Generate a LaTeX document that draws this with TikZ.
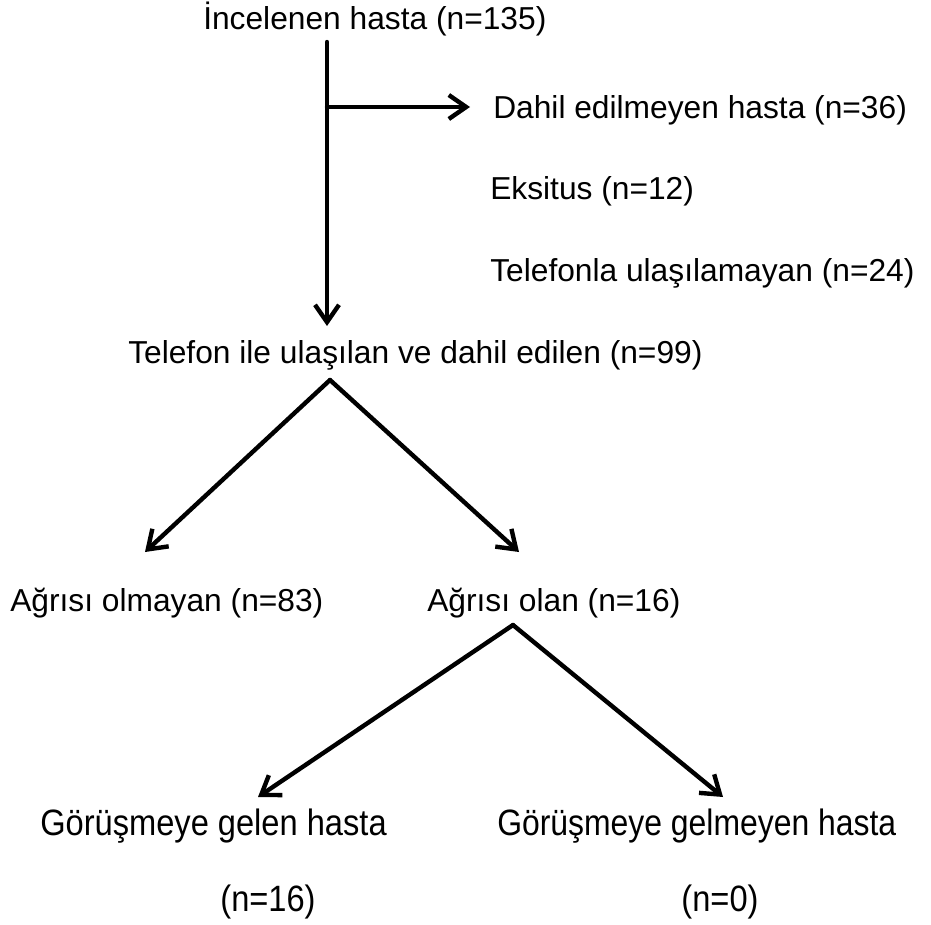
\documentclass[tikz,border=0pt]{standalone}
\usepackage{fontspec}
\setmainfont{Liberation Sans}
\usetikzlibrary{arrows.meta}
\begin{document}
\begin{tikzpicture}[x=0.75pt,y=-0.75pt,
  lbl/.style={anchor=base west,inner sep=0pt,font=\fontsize{23.8pt}{28pt}\selectfont},
  lblb/.style={anchor=base west,inner sep=0pt,font=\fontsize{27.5pt}{30pt}\selectfont},
  arr/.style={line width=3.3pt,line cap=round,line join=round,-{Straight Barb[length=13pt,width=18pt,line width=3.3pt]}}]
\useasboundingbox (0,0) rectangle (931,924);
\node[lbl] (n1) at (203,30) {İncelenen hasta (n=135)};
\node[lbl] (n2) at (493,118) {Dahil edilmeyen hasta (n=36)};
\node[lbl] (n3) at (490,199) {Eksitus (n=12)};
\node[lbl] (n4) at (490,281) {Telefonla ulaşılamayan (n=24)};
\node[lbl] (n5) at (128,363) {Telefon ile ulaşılan ve dahil edilen (n=99)};
\node[lbl] (n6) at (10,611) {Ağrısı olmayan (n=83)};
\node[lbl] (n7) at (427,611) {Ağrısı olan (n=16)};
\node[lblb] (n8) at (40,835) {\scalebox{0.89}[1]{Görüşmeye gelen hasta}};
\node[lblb] (n9) at (497,835) {\scalebox{0.87}[1]{Görüşmeye gelmeyen hasta}};
\node[lblb,anchor=base] (n10) at (268,911) {\scalebox{0.89}[1]{(n=16)}};
\node[lblb,anchor=base] (n11) at (720,911) {\scalebox{0.89}[1]{(n=0)}};
% connector points
\coordinate (t1) at (327,42);
\coordinate (t2) at (327,326);
\coordinate (b0) at (327,107);
\coordinate (b1) at (470,107);
\coordinate (a1) at (330,380);
\coordinate (a1l) at (145,552);
\coordinate (a1r) at (519,552);
\coordinate (a2) at (513,625);
\coordinate (a2l) at (258,797);
\coordinate (a2r) at (723,797);
\draw[arr] (t1) -- (t2);
\draw[arr] (b0) -- (b1);
\draw[arr] (a1) -- (a1l);
\draw[arr] (a1) -- (a1r);
\draw[arr] (a2) -- (a2l);
\draw[arr] (a2) -- (a2r);
\end{tikzpicture}
\end{document}
